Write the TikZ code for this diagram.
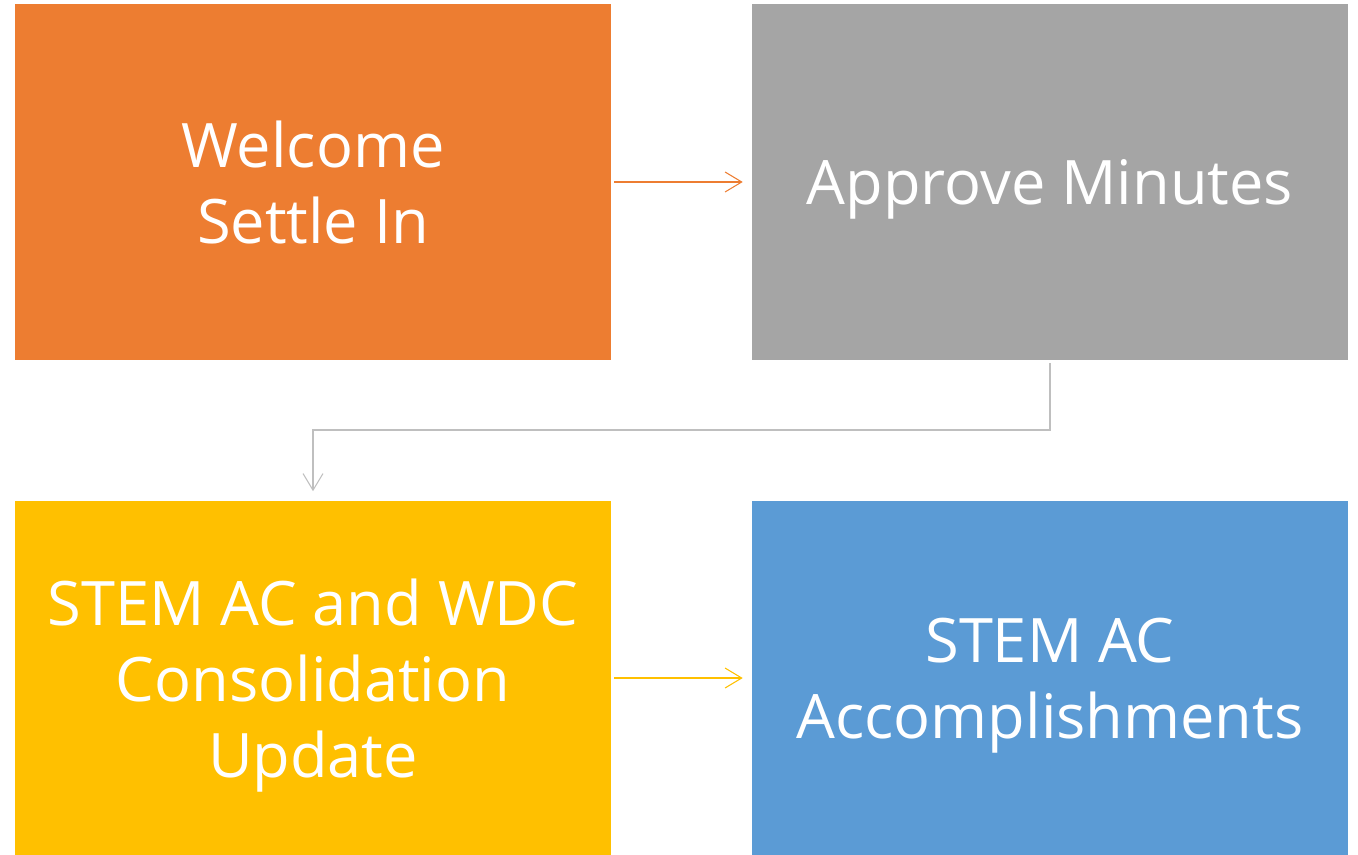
\documentclass[tikz,border=0pt]{standalone}
\usepackage{fontspec}
\setmainfont{Open Sans}
\usetikzlibrary{arrows.meta}
\definecolor{corange}{HTML}{ED7D31}
\definecolor{cgray}{HTML}{A5A5A5}
\definecolor{cyellow}{HTML}{FFC000}
\definecolor{cblue}{HTML}{5B9BD5}
\definecolor{cline}{HTML}{BFBFBF}
\begin{document}
\begin{tikzpicture}[x=0.75pt,y=-0.75pt,
  box/.style={minimum width=596*0.75pt,minimum height=355*0.75pt,inner sep=0pt,
    text=white,align=center,text depth=0pt,font=\fontsize{46}{57}\selectfont},
  conn/.style={line width=0.8pt,-{Straight Barb[length=12.5pt,width=15pt,line width=0.8pt]}}]
\useasboundingbox (0,0) rectangle (1358,855);
\node[box,fill=corange] (b1) at (313,182) {Welcome\\Settle In};
\node[box,fill=cgray] (b2) at (1050,182) {Approve Minutes};
\node[box,fill=cyellow] (b3) at (313,678) {STEM AC and WDC\\Consolidation\\Update};
\node[box,fill=cblue] (b4) at (1050,678) {STEM AC\\Accomplishments};
\coordinate (c1) at (1050,430);
\coordinate (c2) at (313,430);
\draw[conn,draw=corange] ([xshift=3*0.75pt]b1.east) -- ([xshift=-9*0.75pt]b2.west);
\draw[conn,draw=cyellow] ([xshift=3*0.75pt]b3.east) -- ([xshift=-9*0.75pt]b4.west);
\draw[conn,draw=cline] ([yshift=-3*0.75pt]b2.south) -- (c1) -- (c2) -- ([yshift=9*0.75pt]b3.north);
\end{tikzpicture}
\end{document}
